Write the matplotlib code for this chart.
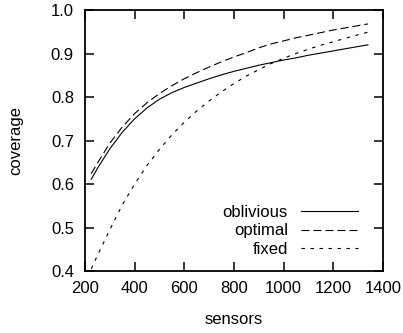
import matplotlib
matplotlib.use("Agg")
import matplotlib.pyplot as plt
import numpy as np

plt.rcParams['font.family'] = ['Liberation Sans', 'DejaVu Sans']

# values
sensors = [225, 250, 300, 350, 400, 450, 500, 550, 600, 650, 700, 750, 800,
           850, 900, 950, 1000, 1050, 1100, 1150, 1200, 1250, 1300, 1340]
oblivious = [0.611, 0.636, 0.681, 0.719, 0.750, 0.775, 0.795, 0.810, 0.822,
             0.832, 0.842, 0.851, 0.859, 0.866, 0.873, 0.879, 0.885, 0.890,
             0.896, 0.901, 0.906, 0.911, 0.916, 0.920]
optimal = [0.624, 0.648, 0.694, 0.731, 0.762, 0.787, 0.808, 0.826, 0.842,
           0.856, 0.869, 0.881, 0.892, 0.902, 0.913, 0.922, 0.929, 0.936,
           0.942, 0.948, 0.954, 0.959, 0.964, 0.968]
fixed = [0.405, 0.436, 0.495, 0.552, 0.600, 0.643, 0.680, 0.713, 0.742,
         0.768, 0.791, 0.812, 0.831, 0.848, 0.863, 0.877, 0.889, 0.900,
         0.910, 0.919, 0.927, 0.935, 0.943, 0.949]

xticks = [200, 400, 600, 800, 1000, 1200, 1400]
yticks = [0.4, 0.5, 0.6, 0.7, 0.8, 0.9, 1.0]

fig = plt.figure(figsize=(4.03, 3.33), dpi=100)
ax = fig.add_axes([0.211, 0.186, 0.739, 0.784])

lw = 0.8
ax.plot(sensors, oblivious, color='black', lw=lw, label='oblivious')
ax.plot(sensors, optimal, color='black', lw=lw, dashes=(7.2, 3.6), label='optimal')
ax.plot(sensors, fixed, color='black', lw=lw, dashes=(3.1, 5.0), label='fixed')

ax.set_xlim(200, 1400)
ax.set_ylim(0.4, 1.0)
ax.set_xticks(xticks)
ax.set_yticks(yticks)
ax.set_yticklabels(['%.1f' % v for v in yticks])
ax.tick_params(direction='in', length=6.5, width=1.1, top=True, right=True,
               labelsize=12)
ax.tick_params(axis='y', pad=8)
ax.tick_params(axis='x', pad=7)
for s in ax.spines.values():
    s.set_linewidth(1.3)

ax.set_xlabel('sensors', fontsize=12, labelpad=12)
ax.set_ylabel('coverage', fontsize=12, labelpad=20)

ax.legend(loc='lower right', bbox_to_anchor=(0.916, 0.053), frameon=False,
          markerfirst=False, fontsize=12, handlelength=3.4, handletextpad=0.8,
          labelspacing=0.23, borderpad=0, borderaxespad=0)

fig.savefig('out.png', dpi=100)
